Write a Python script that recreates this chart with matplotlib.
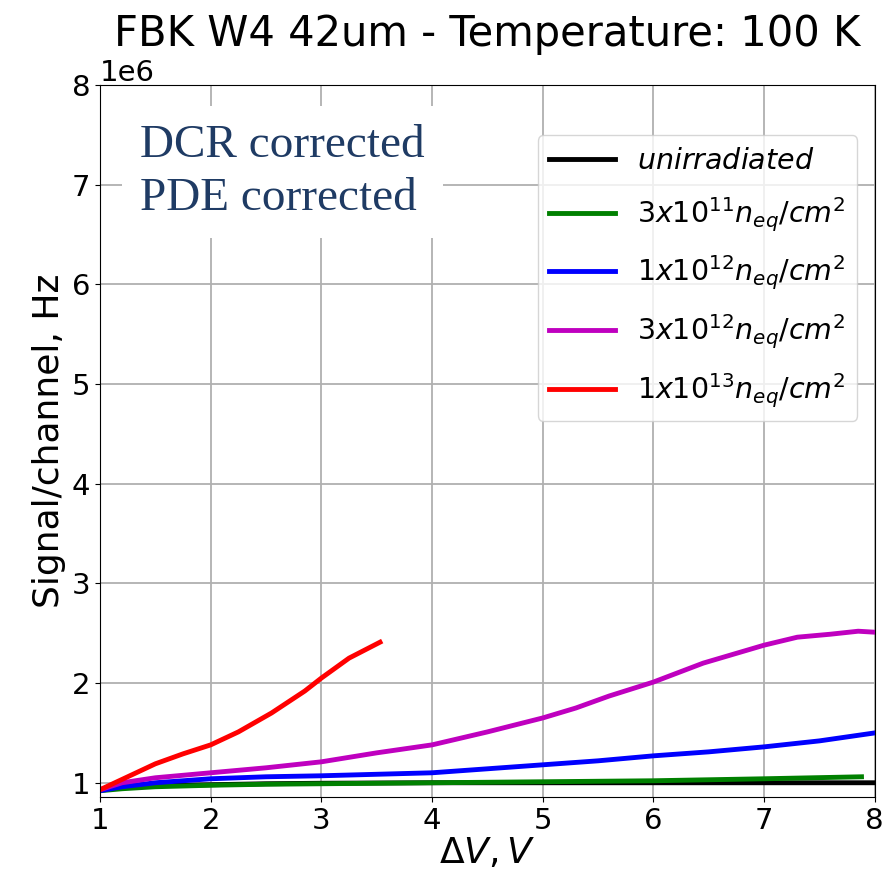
import matplotlib
matplotlib.use("Agg")
import matplotlib.pyplot as plt
import numpy as np

# Data (signal in units of 1e6 Hz)
x_unirr = [1.0, 1.2, 1.5, 2.0, 2.5, 3.0, 4.0, 5.0, 6.0, 7.0, 8.0]
y_unirr = [0.93, 0.95, 0.97, 0.98, 0.99, 0.995, 1.0, 1.0, 1.0, 1.0, 1.0]

x_3e11 = [1.0, 1.2, 1.5, 2.0, 2.5, 3.0, 4.0, 5.0, 6.0, 7.0, 7.88]
y_3e11 = [0.92, 0.94, 0.96, 0.975, 0.985, 0.99, 1.0, 1.01, 1.02, 1.04, 1.06]

x_1e12 = [1.0, 1.2, 1.5, 2.0, 2.5, 3.0, 3.5, 4.0, 4.5, 5.0, 5.5, 6.0, 6.5, 7.0, 7.5, 8.0]
y_1e12 = [0.92, 0.96, 1.0, 1.04, 1.06, 1.07, 1.085, 1.10, 1.14, 1.18, 1.22, 1.27, 1.31, 1.36, 1.42, 1.50]

x_3e12 = [1.0, 1.2, 1.5, 2.0, 2.5, 3.0, 3.5, 4.0, 4.5, 5.0, 5.3, 5.6, 6.0, 6.45, 7.0, 7.3, 7.6, 7.85, 8.0]
y_3e12 = [0.93, 1.0, 1.05, 1.10, 1.15, 1.21, 1.30, 1.38, 1.51, 1.65, 1.75, 1.87, 2.01, 2.20, 2.38, 2.46, 2.49, 2.52, 2.51]

x_1e13 = [1.0, 1.25, 1.5, 1.75, 2.0, 2.25, 2.55, 2.85, 3.0, 3.25, 3.53]
y_1e13 = [0.93, 1.06, 1.19, 1.29, 1.38, 1.51, 1.70, 1.92, 2.05, 2.25, 2.41]

labels = ["$unirradiated$",
          "$3x10^{11}n_{eq}/cm^2$",
          "$1x10^{12}n_{eq}/cm^2$",
          "$3x10^{12}n_{eq}/cm^2$",
          "$1x10^{13}n_{eq}/cm^2$"]
colors = ["black", "green", "blue", "m", "red"]

series = [(x_unirr, y_unirr), (x_3e11, y_3e11), (x_1e12, y_1e12),
          (x_3e12, y_3e12), (x_1e13, y_1e13)]

fig = plt.figure(figsize=(8.89, 8.84), dpi=100)
ax = fig.add_axes([0.1125, 0.0984, 0.8715, 0.8056])

for (xs, ys), lab, c in zip(series, labels, colors):
    ax.plot(xs, np.array(ys) * 1e6, color=c, lw=3.5, label=lab)

ax.set_xlim(1, 8)
ax.set_ylim(0.857e6, 8e6)
ax.set_xticks([1, 2, 3, 4, 5, 6, 7, 8])
ax.set_yticks(np.arange(1, 9) * 1e6)
ax.tick_params(labelsize=21)
ax.yaxis.get_offset_text().set_fontsize(21)
ax.grid(True, color="#b0b0b0", lw=1.3)
ax.set_axisbelow(True)

ax.set_title("FBK W4 42um - Temperature: 100 K", fontsize=30, pad=28)
ax.set_xlabel(r"$\Delta V, V$", fontsize=26, labelpad=1)
ax.set_ylabel("Signal/channel, Hz", fontsize=26, labelpad=4)

ax.legend(loc="upper right", fontsize=20.5, bbox_to_anchor=(0.996, 0.949),
          handlelength=2.3, labelspacing=0.71, borderpad=0.4)

ax.text(0.052, 0.945, "DCR corrected\nPDE corrected", transform=ax.transAxes,
        fontsize=34, family="Liberation Serif", color="#1f3b64",
        va="top", ha="left", linespacing=1.33,
        bbox=dict(facecolor="white", edgecolor="none", pad=13))

fig.savefig("out.png", dpi=100)
